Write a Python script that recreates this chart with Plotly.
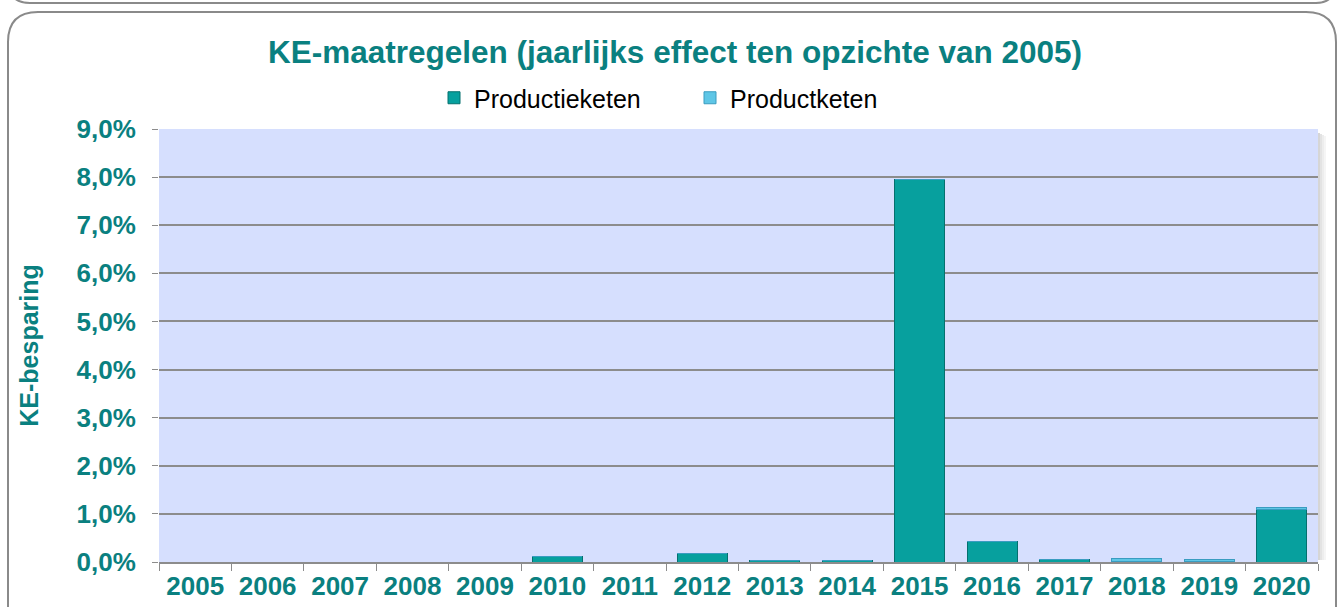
import plotly.graph_objects as go

years = [str(y) for y in range(2005, 2021)]
productieketen = [0, 0, 0, 0, 0, 0.12, 0, 0.17, 0.03, 0.04, 7.95, 0.42, 0.05, 0.02, 0.02, 1.10]
productketen = [0, 0, 0, 0, 0, 0, 0, 0, 0, 0, 0, 0, 0, 0.06, 0.03, 0.03]
tick_vals = [0, 1, 2, 3, 4, 5, 6, 7, 8, 9]
tick_text = ["0,0%", "1,0%", "2,0%", "3,0%", "4,0%", "5,0%", "6,0%", "7,0%", "8,0%", "9,0%"]

TEAL_TXT = "#0A8080"
FONT = "Arial, Liberation Sans, sans-serif"

W, H = 1338, 607
L, R, T, B = 159, 20, 129, 45
PW, PH = W - L - R, H - T - B


def px(x):
    return (x - L) / PW


def py(y):
    return (H - B - y) / PH


fig = go.Figure()
fig.add_trace(go.Bar(
    x=years, y=productieketen, name="Productieketen",
    marker=dict(color="#07A09E", line=dict(color="#05706E", width=1)),
))
fig.add_trace(go.Bar(
    x=years, y=productketen, name="Productketen",
    marker=dict(color="#5EC6E6", line=dict(color="#3A9CC0", width=1)),
))


def rrect(x0, y0, x1, y1, r):
    return (f"M {px(x0+r)},{py(y0)} L {px(x1-r)},{py(y0)} "
            f"Q {px(x1)},{py(y0)} {px(x1)},{py(y0+r)} L {px(x1)},{py(y1)} "
            f"M {px(x0)},{py(y1)} L {px(x0)},{py(y0+r)} "
            f"Q {px(x0)},{py(y0)} {px(x0+r)},{py(y0)}")


shapes = [
    dict(type="path", xref="paper", yref="paper", path=rrect(8, 12, 1336, 620, 30),
         line=dict(color="#8A8A8A", width=2), layer="below"),
    dict(type="path", xref="paper", yref="paper",
         path=f"M {px(8)},{py(-20)} Q {px(8)},{py(3)} {px(30)},{py(3)} L {px(1316)},{py(3)} Q {px(1336)},{py(3)} {px(1336)},{py(-20)}",
         line=dict(color="#8A8A8A", width=2), layer="below"),
]
for i, a in enumerate([0.16, 0.11, 0.07, 0.04]):
    shapes.append(dict(type="rect", xref="paper", yref="paper",
                       x0=px(L + PW + 2 * i), x1=px(L + PW + 2 * i + 2),
                       y0=py(560), y1=py(133 + i),
                       fillcolor=f"rgba(0,0,0,{a})", line=dict(width=0), layer="below"))

fig.update_layout(
    width=W, height=H,
    barmode="stack", bargap=0.31,
    paper_bgcolor="white", plot_bgcolor="#D6DFFE",
    margin=dict(l=L, r=R, t=T, b=B, autoexpand=False),
    title=dict(text="<b>KE-maatregelen (jaarlijks effect ten opzichte van 2005)</b>",
               x=px(675), xref="paper", xanchor="center", y=1 - 52 / H, yanchor="middle",
               font=dict(family=FONT, size=31.5, color=TEAL_TXT)),
    legend=dict(orientation="h", x=px(434), xanchor="left", y=py(98), yanchor="middle",
                font=dict(family=FONT, size=25, color="black"),
                itemwidth=30, entrywidthmode="pixels", entrywidth=211,
                bgcolor="rgba(0,0,0,0)", traceorder="normal"),
    font=dict(family=FONT, color=TEAL_TXT),
    shapes=shapes,
    showlegend=True,
)
fig.update_xaxes(
    type="category", showgrid=False, tickson="boundaries", ticks="outside", ticklen=7,
    tickcolor="#8C8C8C", linecolor="#8C8C8C", linewidth=2, showline=True,
    tickfont=dict(family=FONT, size=26, color=TEAL_TXT, weight="bold"),
)
fig.update_yaxes(
    range=[0, 9], tickvals=tick_vals, ticktext=tick_text,
    showgrid=True, gridcolor="#8C8C8C", gridwidth=2, zeroline=False,
    ticks="outside", ticklen=6, tickcolor="#8C8C8C", showline=False,
    ticklabelstandoff=11,
    tickfont=dict(family=FONT, size=26, color=TEAL_TXT, weight="bold"),
    title=dict(text="<b>KE-besparing</b>", font=dict(family=FONT, size=25, color=TEAL_TXT), standoff=30),
)
fig.write_html("out.html", config={"displayModeBar": False},
               post_script="document.body.style.margin='0';")
